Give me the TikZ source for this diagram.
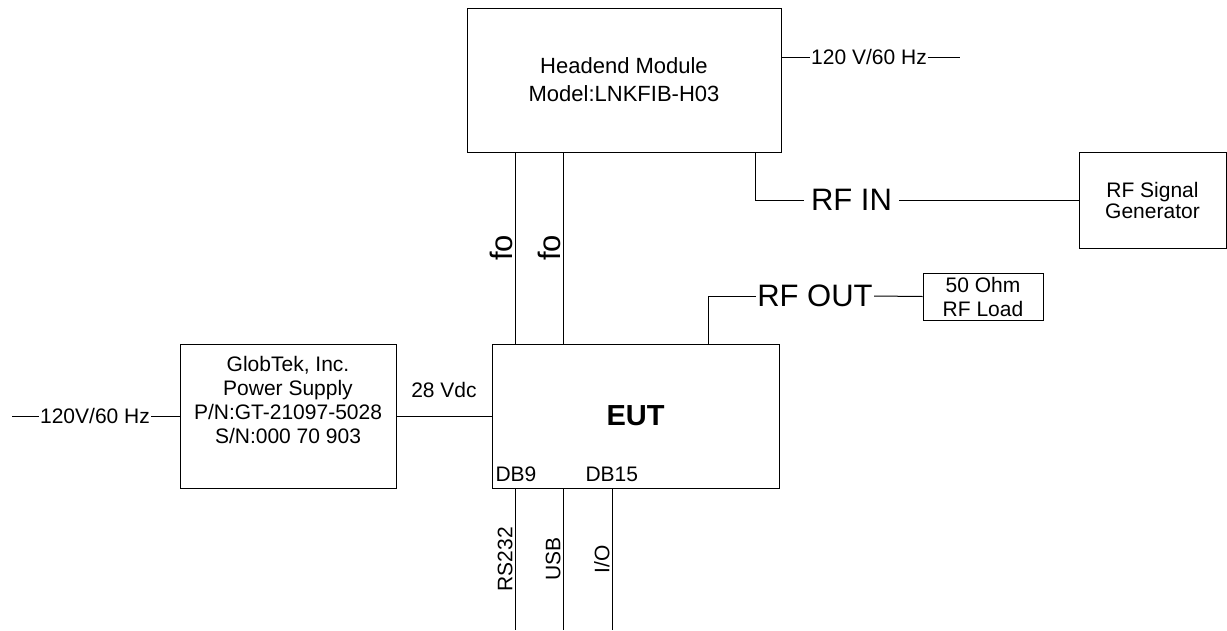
\documentclass[tikz,border=0pt]{standalone}
\usepackage{fontspec}
\setmainfont{Liberation Sans}
\usetikzlibrary{calc}

\begin{document}
\begin{tikzpicture}[
  x=1pt, y=-1pt, line width=1pt,
  every node/.style={font=\fontsize{21}{24}\selectfont},
  block/.style={draw, align=center, inner sep=0pt},
  wirelabel/.style={inner xsep=1pt, inner ysep=0pt},
  biglabel/.style={font=\fontsize{31}{36}\selectfont},
  portlabel/.style={rotate=90, anchor=south, inner sep=2pt}
]
  \useasboundingbox (0,0) rectangle (1227,630);

  % boxes
  \node[block, minimum width=314, minimum height=144,
        font=\fontsize{22}{28}\selectfont] (hm) at (624,80)
    {Headend Module\\Model:LNKFIB-H03};
  \node[block, minimum width=287, minimum height=144,
        font=\bfseries\fontsize{29}{34}\selectfont] (eut) at (635.5,416) {EUT};
  \node[block, minimum width=216, minimum height=144] (ps) at (288,416) {};
  \node[align=center] (pstxt) at (288,400)
    {GlobTek, Inc.\\Power Supply\\P/N:GT-21097-5028\\S/N:000 70 903};
  \node[block, minimum width=147, minimum height=96,
        font=\fontsize{21}{21}\selectfont] (sg) at (1152.5,200)
    {RF Signal\\Generator};
  \node[block, minimum width=120, minimum height=47] (load) at (983,296.5)
    {50 Ohm\\RF Load};

  % connector labels
  \node[wirelabel] (acin) at (95,416) {120V/60 Hz};
  \node[wirelabel] (hmac) at (869,57) {120 V/60 Hz};
  \node[wirelabel, biglabel, inner xsep=7pt] (rfin) at (851.5,200) {RF IN};
  \node[wirelabel, biglabel] (rfout) at (815,296) {RF OUT};
  \node[anchor=base west, inner sep=0pt] (db9) at (495,481) {DB9};
  \node[anchor=base west, inner sep=0pt] (db15) at (585,481) {DB15};

  \coordinate (acend) at (12,416);
  \coordinate (hmacend) at (960,57);
  \coordinate (rfintap) at (755,0);
  \coordinate (rfouttap) at (708,0);
  \coordinate (fo1) at (515,0);
  \coordinate (fo2) at (563,0);
  \coordinate (rs) at (515,630);
  \coordinate (usb) at (563,630);
  \coordinate (io) at (612,630);

  % power
  \draw (acend) -- (acin.west);
  \draw (acin.east) -- (ps.west);
  \draw (ps) -- node[above=14pt] {28 Vdc} (eut);
  \draw (hm.east |- hmac) -- (hmac.west);
  \draw (hmac.east) -- (hmacend);

  % rf
  \draw (rfintap |- hm.south) |- (rfin.west);
  \draw (rfin.east) -- (sg.west);
  \draw (rfouttap |- eut.north) |- (rfout.west);
  \draw (rfout.east) -- (load.west);

  % fibre
  \draw (fo1 |- hm.south) -- node[portlabel, biglabel] {fo} (fo1 |- eut.north);
  \draw (fo2 |- hm.south) -- node[portlabel, biglabel] {fo} (fo2 |- eut.north);

  % ports
  \draw (eut.south -| rs) -- node[portlabel] {RS232} (rs);
  \draw (eut.south -| usb) -- node[portlabel] {USB} (usb);
  \draw (eut.south -| io) -- node[portlabel] {I/O} (io);
\end{tikzpicture}
\end{document}
